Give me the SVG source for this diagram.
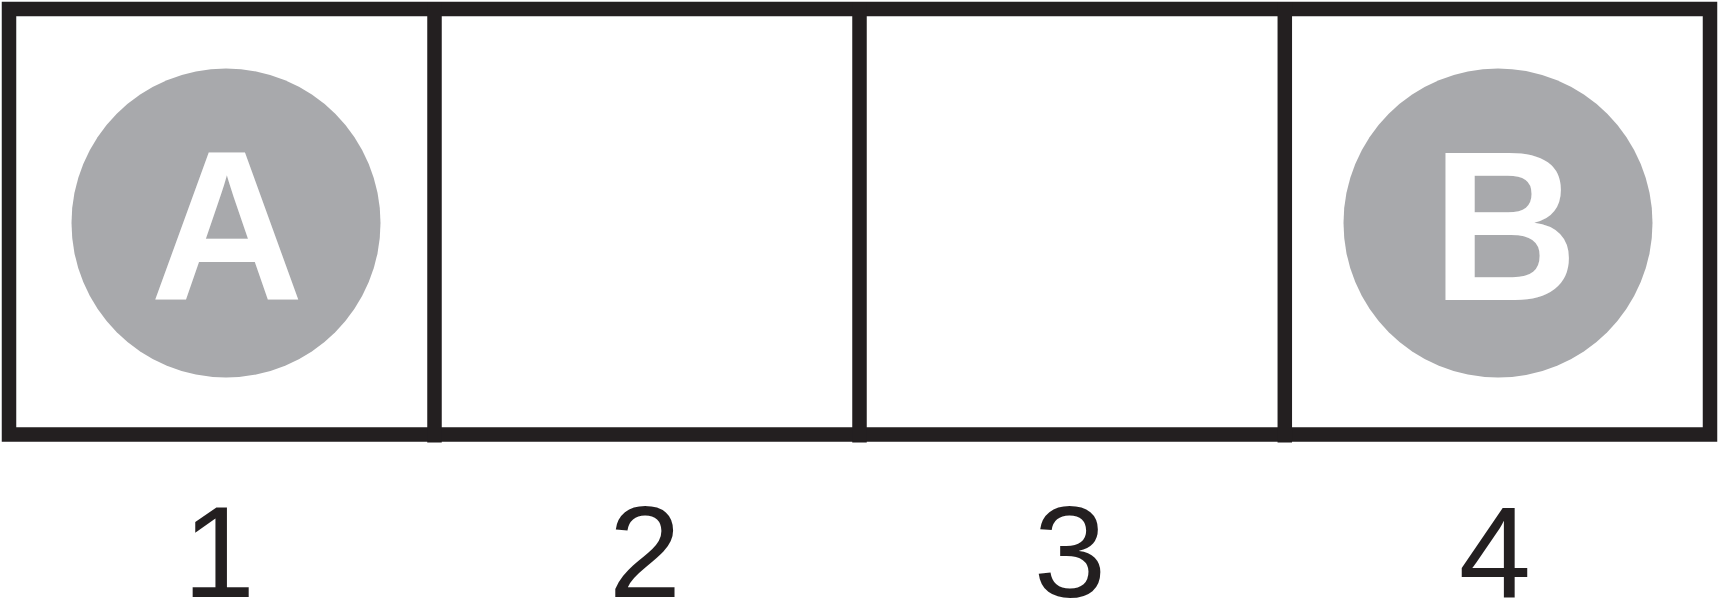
<svg xmlns="http://www.w3.org/2000/svg" width="1722" height="601" viewBox="0 0 1722 601">
<style>
.frame{fill:none;stroke:#231f20;stroke-width:14.5}
.div{stroke:#231f20;stroke-width:14.5}
.disc{fill:#a8a9ac}
.letter{font-family:"Liberation Sans",Arial,sans-serif;font-weight:bold;font-size:213px;fill:#ffffff;text-anchor:middle}
.num{font-family:"Liberation Sans",Arial,sans-serif;font-size:130px;fill:#231f20;text-anchor:middle}
</style>
<rect width="1722" height="601" fill="#ffffff"/>
<g id="frame">
<rect class="frame" x="9" y="9" width="1701" height="425.5"/>
</g>
<g id="connectors">
<line class="div" x1="434.5" y1="2" x2="434.5" y2="442.5"/>
<line class="div" x1="859.5" y1="2" x2="859.5" y2="442.5"/>
<line class="div" x1="1284.8" y1="2" x2="1284.8" y2="442.5"/>
</g>
<g id="nodeA">
<circle class="disc" cx="226" cy="223" r="154.5"/>
<text class="letter" x="227" y="300">A</text>
</g>
<g id="nodeB">
<circle class="disc" cx="1498" cy="223" r="154.5"/>
<text class="letter" x="1505" y="300" transform="translate(1505 0) scale(0.95 1) translate(-1505 0)">B</text>
</g>
<g id="labels">
<text class="num" x="219" y="596.5">1</text>
<text class="num" x="645" y="596.5">2</text>
<text class="num" x="1070" y="596.5">3</text>
<text class="num" x="1495" y="596.5">4</text>
</g>
</svg>
